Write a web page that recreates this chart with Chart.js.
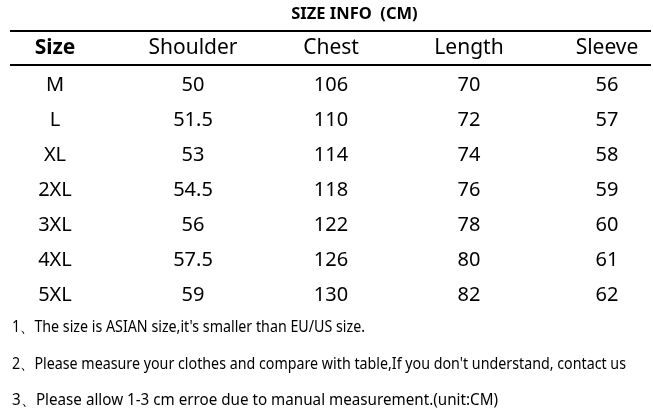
<!DOCTYPE html>
<html><head><meta charset="utf-8">
<script src="https://cdn.jsdelivr.net/npm/chart.js@4"></script>
<style>html,body{margin:0;padding:0;background:#fff}#wrap{width:653px;height:409px}</style>
</head><body><div id="wrap"><canvas id="c"></canvas></div>
<script>
const title = 'SIZE INFO  (CM)';
const columns = ['Size', 'Shoulder', 'Chest', 'Length', 'Sleeve'];
const sizes = ['M', 'L', 'XL', '2XL', '3XL', '4XL', '5XL'];
const shoulder = [50, 51.5, 53, 54.5, 56, 57.5, 59];
const chest = [106, 110, 114, 118, 122, 126, 130];
const length = [70, 72, 74, 76, 78, 80, 82];
const sleeve = [56, 57, 58, 59, 60, 61, 62];
const notes = [
  '1、The size is ASIAN size,it\'s smaller than EU/US size.',
  '2、Please measure your clothes and compare with table,If you don\'t understand, contact us',
  '3、Please allow 1-3 cm erroe due to manual measurement.(unit:CM)'
];

const columnValues = [sizes, shoulder, chest, length, sleeve];
const FONT = '"Noto Sans", "Open Sans", sans-serif';

const datasets = columnValues.map((vals, ci) => ({
  label: columns[ci],
  data: vals.map((v, ri) => ({ x: ci, y: ri + 1, t: String(v) })),
  pointRadius: 0, showLine: false
}));

const tablePlugin = {
  id: 'table',
  afterDatasetsDraw(chart) {
    const ctx = chart.ctx, xs = chart.scales.x, ys = chart.scales.y, ca = chart.chartArea;
    ctx.save();
    ctx.fillStyle = '#000';
    ctx.textAlign = 'center';
    ctx.textBaseline = 'middle';
    // title
    ctx.font = 'bold 16.5px ' + FONT;
    ctx.fillText(title, xs.getPixelForValue(2.17), ys.getPixelForValue(-1.03));
    // rules
    ctx.strokeStyle = '#000';
    ctx.lineWidth = 2.2;
    [-0.543, 0.429].forEach(v => {
      const y = ys.getPixelForValue(v);
      ctx.beginPath(); ctx.moveTo(ca.left, y); ctx.lineTo(ca.right, y); ctx.stroke();
    });
    // header
    columns.forEach((c, ci) => {
      ctx.font = (ci === 0 ? 'bold ' : '') + '21px ' + FONT;
      ctx.fillText(c, xs.getPixelForValue(ci), ys.getPixelForValue(-0.06));
    });
    // cells
    ctx.font = '20px ' + FONT;
    chart.data.datasets.forEach((ds, di) => {
      const meta = chart.getDatasetMeta(di);
      meta.data.forEach((pt, i) => {
        ctx.fillText(ds.data[i].t, pt.x, pt.y);
      });
    });
    // notes
    ctx.textAlign = 'left';
    ctx.font = '16px ' + FONT;
    const noteRows = [7.94, 8.97, 10.0];
    const noteW = [353, 614, 486];
    notes.forEach((n, i) => {
      ctx.fillText(n, ca.left + 2, ys.getPixelForValue(noteRows[i]), noteW[i]);
    });
    ctx.restore();
  }
};

new Chart(document.getElementById('c'), {
  type: 'scatter',
  data: { datasets },
  options: {
    responsive: true, maintainAspectRatio: false, animation: false,
    layout: { padding: { left: 10, right: 2, top: 0, bottom: 0 } },
    plugins: { legend: { display: false }, tooltip: { enabled: false }, title: { display: false } },
    scales: {
      x: { type: 'linear', display: false, min: -45 / 138, max: (641 - 45) / 138 },
      y: { type: 'linear', display: false, reverse: true, min: -50 / 35, max: (409 - 50) / 35 }
    }
  },
  plugins: [tablePlugin]
});
</script></body></html>
